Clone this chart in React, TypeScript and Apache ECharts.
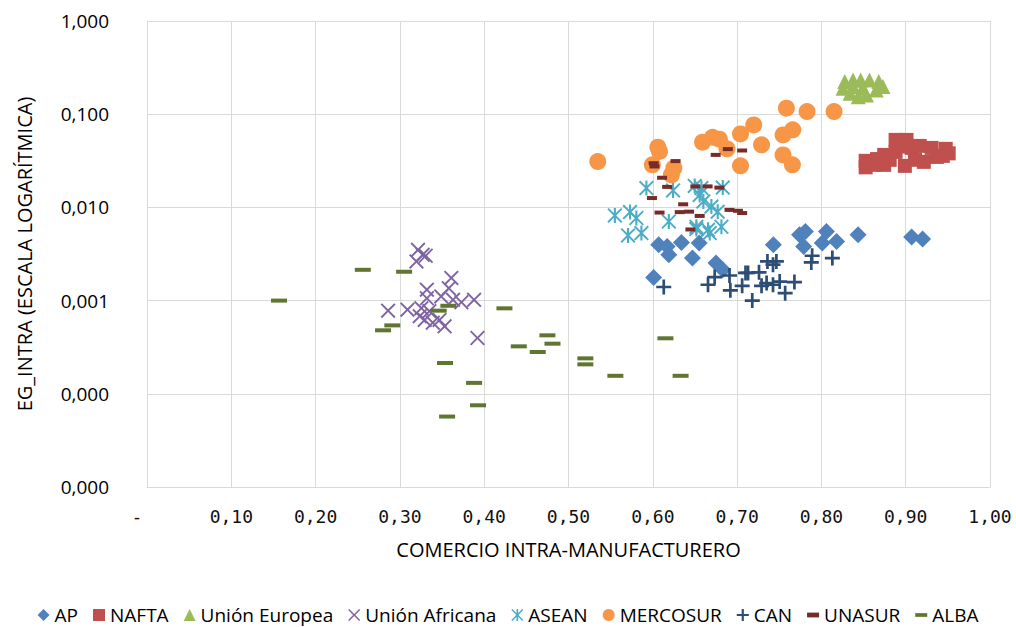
import React, { useEffect, useRef } from 'react';
import * as echarts from 'echarts';

const seriesNames = ['AP', 'NAFTA', 'Unión Europea', 'Unión Africana', 'ASEAN', 'MERCOSUR', 'CAN', 'UNASUR', 'ALBA'];

const AP: [number, number][] = [
  [0.607, 0.00397], [0.617, 0.0038], [0.619, 0.0031], [0.634, 0.0042], [0.655, 0.00414], [0.647, 0.00286],
  [0.601, 0.00177], [0.675, 0.00253], [0.683, 0.00214], [0.743, 0.00397], [0.774, 0.00508], [0.781, 0.00552],
  [0.779, 0.0038], [0.806, 0.00552], [0.801, 0.00414], [0.818, 0.00431], [0.8435, 0.00508], [0.907, 0.00481],
  [0.92, 0.00457],
];
const NAFTA: [number, number][] = [
  [0.8525, 0.0269], [0.8525, 0.0316], [0.863, 0.0286], [0.8745, 0.0366], [0.8745, 0.0286], [0.881, 0.0324],
  [0.888, 0.053], [0.901, 0.053], [0.888, 0.0394], [0.899, 0.0279], [0.907, 0.0435], [0.9166, 0.0457],
  [0.9215, 0.0308], [0.9307, 0.0435], [0.937, 0.0348], [0.9475, 0.0425], [0.951, 0.038], [0.911, 0.0324],
  [0.944, 0.0357], [0.866, 0.033], [0.895, 0.045],
];
const UE: [number, number][] = [
  [0.8277, 0.224], [0.8375, 0.233], [0.8466, 0.233], [0.857, 0.233], [0.868, 0.224], [0.8256, 0.19],
  [0.834, 0.168], [0.8437, 0.154], [0.8535, 0.161], [0.865, 0.182], [0.873, 0.198], [0.849, 0.19],
  [0.8375, 0.198],
];
const UA: [number, number][] = [
  [0.3215, 0.00351], [0.327, 0.0031], [0.3196, 0.00263], [0.3306, 0.00303], [0.361, 0.00175], [0.358, 0.00136],
  [0.332, 0.00131], [0.332, 0.00106], [0.349, 0.00111], [0.363, 0.00102], [0.388, 0.00102], [0.373, 0.00096],
  [0.286, 0.00078], [0.309, 0.0008], [0.3255, 0.00083], [0.3235, 0.00068], [0.3294, 0.00062], [0.339, 0.00058],
  [0.353, 0.00053], [0.347, 0.00062], [0.392, 0.000397], [0.335, 0.00077],
];
const ASEAN: [number, number][] = [
  [0.5924, 0.0161], [0.624, 0.0152], [0.6497, 0.017], [0.6577, 0.0161], [0.683, 0.0163], [0.6556, 0.0136],
  [0.66, 0.0116], [0.6695, 0.0102], [0.677, 0.009], [0.555, 0.0082], [0.573, 0.0089], [0.5805, 0.0077],
  [0.619, 0.00706], [0.5706, 0.005], [0.5865, 0.0053], [0.6517, 0.0062], [0.6655, 0.00575], [0.6814, 0.0062],
  [0.6517, 0.00585], [0.6675, 0.0053],
];
const MERCOSUR: [number, number][] = [
  [0.5347, 0.031], [0.606, 0.0443], [0.608, 0.0398], [0.5995, 0.0286], [0.625, 0.0264], [0.622, 0.0223],
  [0.659, 0.0501], [0.671, 0.0566], [0.679, 0.0539], [0.688, 0.0425], [0.704, 0.0615], [0.7197, 0.0768],
  [0.729, 0.0469], [0.704, 0.0279], [0.7585, 0.116], [0.783, 0.1066], [0.7545, 0.06], [0.766, 0.0679],
  [0.7545, 0.0366], [0.7656, 0.0286], [0.815, 0.1066],
];
const CAN: [number, number][] = [
  [0.613, 0.0014], [0.6655, 0.00148], [0.6734, 0.00179], [0.691, 0.00186], [0.692, 0.00129], [0.706, 0.00144],
  [0.71, 0.00198], [0.713, 0.00198], [0.726, 0.00201], [0.718, 0.001], [0.729, 0.00144], [0.735, 0.00154],
  [0.7426, 0.00148], [0.7505, 0.0016], [0.757, 0.0012], [0.768, 0.00158], [0.736, 0.00263], [0.7466, 0.00263],
  [0.7426, 0.00243], [0.789, 0.00303], [0.788, 0.00257], [0.813, 0.00286],
];
const UNASUR: [number, number][] = [
  [0.601, 0.0298], [0.602, 0.0275], [0.627, 0.0314], [0.689, 0.0422], [0.706, 0.0408], [0.6746, 0.0366],
  [0.611, 0.0208], [0.617, 0.0166], [0.6505, 0.0168], [0.665, 0.0168], [0.679, 0.0163], [0.599, 0.0126],
  [0.636, 0.0108], [0.608, 0.0088], [0.632, 0.0089], [0.643, 0.009], [0.6556, 0.0081], [0.691, 0.0094],
  [0.701, 0.0092], [0.706, 0.0087], [0.6446, 0.0058],
];
const ALBA: [number, number][] = [
  [0.1566, 0.001], [0.256, 0.00214], [0.305, 0.00204], [0.291, 0.000542], [0.28, 0.00048], [0.346, 0.00078],
  [0.3575, 0.00088], [0.424, 0.000826], [0.475, 0.000424], [0.441, 0.000323], [0.4635, 0.000281], [0.481, 0.000345],
  [0.3535, 0.000214], [0.388, 0.000131], [0.3927, 0.0000753], [0.356, 0.000057], [0.615, 0.000394], [0.52, 0.00024],
  [0.52, 0.000207], [0.5556, 0.000156], [0.633, 0.000156],
];

const X_PATH = 'path://M0,0.9L0.9,0L5,4.1L9.1,0L10,0.9L5.9,5L10,9.1L9.1,10L5,5.9L0.9,10L0,9.1L4.1,5Z';
const STAR_PATH = 'path://M0,0.9L0.9,0L5,4.1L9.1,0L10,0.9L5.9,5L10,9.1L9.1,10L5,5.9L0.9,10L0,9.1L4.1,5ZM4.3,0H5.7V10H4.3Z';
const PLUS_PATH = 'path://M4.1,0H5.9V4.1H10V5.9H5.9V10H4.1V5.9H0V4.1H4.1Z';
const DASH_S = 'path://M0,0H9V3.6H0Z';
const DASH_L = 'path://M0,0H11V3.4H0Z';

const seriesData = [AP, NAFTA, UE, UA, ASEAN, MERCOSUR, CAN, UNASUR, ALBA];
const colors = ['#4f81bd', '#c0504d', '#9bbb59', '#8064a2', '#4bacc6', '#f79646', '#2c4d75', '#772c2a', '#5f7530'];
const symbols = ['diamond', 'rect', 'triangle', X_PATH, STAR_PATH, 'circle', PLUS_PATH, 'rect', 'rect'];
const legendIcons = ['diamond', 'rect', 'triangle', X_PATH, STAR_PATH, 'circle', PLUS_PATH, DASH_S, DASH_L];
const sizes: (number | number[])[] = [17, 14, 15, 15, 15, 17, 15, [10, 4], [16, 4]];

const FONT = 'Open Sans';

export default function App() {
  const ref = useRef<HTMLDivElement>(null);
  useEffect(() => {
    const chart = echarts.init(ref.current!, null, { renderer: 'svg' });
    chart.setOption({
      animation: false,
      backgroundColor: '#ffffff',
      grid: { left: 147, right: 26, top: 21, bottom: 140, containLabel: false },
      legend: {
        top: 605,
        left: 'center',
        itemWidth: 12,
        itemHeight: 12,
        itemGap: 15,
        padding: 0,
        textStyle: { fontFamily: FONT, fontSize: 19, lineHeight: 20, color: '#000' },
        data: seriesNames.map((n, i) => ({ name: n, icon: legendIcons[i], itemStyle: { color: colors[i] } })),
      },
      xAxis: {
        type: 'value',
        min: 0,
        max: 1,
        interval: 0.1,
        name: 'COMERCIO INTRA-MANUFACTURERO',
        nameLocation: 'middle',
        nameGap: 52,
        nameTextStyle: { fontFamily: FONT, fontSize: 20, color: '#000' },
        axisLine: { show: true, lineStyle: { color: '#d9d9d9', width: 1 } },
        axisTick: { show: false },
        splitLine: { show: true, lineStyle: { color: '#d9d9d9', width: 1 } },
        axisLabel: {
          margin: 20,
          fontFamily: 'DejaVu Sans Mono',
          fontSize: 18,
          color: '#111',
          formatter: (v: number) => (v === 0 ? '{d|-}' : v.toFixed(2).replace('.', ',')),
          rich: { d: { padding: [0, 20, 0, 0], fontFamily: 'DejaVu Sans Mono', fontSize: 18, color: '#111' } },
        },
      },
      yAxis: {
        type: 'log',
        logBase: 10,
        min: 0.00001,
        max: 1,
        splitNumber: 5,
        name: 'EG_INTRA (ESCALA LOGARÍTMICA)',
        nameLocation: 'middle',
        nameGap: 113,
        nameTextStyle: { fontFamily: FONT, fontSize: 20, color: '#000' },
        axisLine: { show: true, lineStyle: { color: '#d9d9d9', width: 1 } },
        axisTick: { show: false },
        minorTick: { show: false },
        splitLine: { show: true, lineStyle: { color: '#d9d9d9', width: 1 } },
        axisLabel: {
          margin: 38,
          fontFamily: FONT,
          fontSize: 19,
          color: '#000',
          formatter: (v: number) => Number(v).toFixed(3).replace('.', ','),
        },
      },
      series: seriesNames.map((n, i) => ({
        name: n,
        type: 'scatter',
        data: seriesData[i],
        symbol: symbols[i],
        symbolSize: sizes[i],
        itemStyle: { color: colors[i], opacity: 1 },
        emphasis: { disabled: true },
      })),
    });
    return () => chart.dispose();
  }, []);
  return (
    <div
      ref={ref}
      style={{ position: 'fixed', left: 0, top: 0, width: 1016, height: 627, background: '#fff' }}
    />
  );
}
